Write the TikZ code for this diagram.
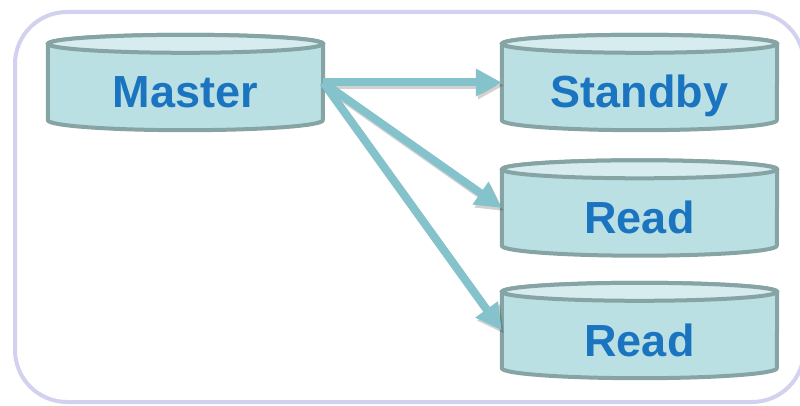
\documentclass[tikz,border=0pt]{standalone}
\usepackage{fontspec}
\setmainfont{Liberation Sans}
\usetikzlibrary{arrows.meta,calc,backgrounds}

\definecolor{framecol}{HTML}{D2D2F0}
\definecolor{cylfill}{HTML}{BBE0E3}
\definecolor{cyltopfill}{HTML}{D6ECEF}
\definecolor{cylline}{HTML}{86A4A4}
\definecolor{labelcol}{HTML}{1B74BF}
\definecolor{arrowcol}{HTML}{84C3CC}

\tikzset{
  dbnode/.style={minimum width=275pt, minimum height=95pt, inner sep=0pt,
    text height=51pt, text depth=0pt, text=labelcol,
    font=\fontsize{45}{54}\selectfont\bfseries},
  cylbody/.style={fill=cylfill, draw=cylline, line width=4pt, line join=round},
  cyltop/.style={fill=cyltopfill, draw=cylline, line width=4pt},
  outerframe/.style={draw=framecol, line width=4pt, rounded corners=52pt},
  flow/.style={draw=arrowcol, line width=8pt,
    -{Triangle[length=26pt,width=26pt]}},
  flowshadow/.style={draw=black, opacity=0.18, line width=8pt,
    -{Triangle[length=26pt,width=26pt]},
    transform canvas={shift={(2pt,-3pt)}}},
}

% database drum behind a named node
\newcommand\dbdrum[1]{%
  \path[cylbody] ($(#1.north west)+(0,-9)$) -- ($(#1.south west)+(0,10)$)
    arc[start angle=180, end angle=360, x radius=137.5pt, y radius=10pt]
    -- ($(#1.north east)+(0,-9)$)
    arc[start angle=0, end angle=180, x radius=137.5pt, y radius=9pt] -- cycle;
  \path[cyltop] ($(#1.north)+(0,-9)$) ellipse[x radius=137.5pt, y radius=9pt];
}

\begin{document}
\begin{tikzpicture}[x=1pt, y=1pt]
  \useasboundingbox (0,0) rectangle (800,405);

  \node[dbnode] (master)  at (185.5,322.5) {Master};
  \node[dbnode] (standby) at (639.5,322.5) {Standby};
  \node[dbnode] (readA)   at (639.5,197)   {Read};
  \node[dbnode] (readB)   at (639.5,74.5)  {Read};

  \begin{pgfonlayer}{background}
    \draw[outerframe] (15,3) rectangle (804,393);
    \dbdrum{master}
    \dbdrum{standby}
    \dbdrum{readA}
    \dbdrum{readB}
  \end{pgfonlayer}

  % replication arrows
  \draw[flowshadow] (master.east) -- (standby.west);
  \draw[flowshadow] (master.east) -- (readA.west);
  \draw[flowshadow] (master.east) -- (readB.west);
  \draw[flow] (master.east) -- (standby.west);
  \draw[flow] (master.east) -- (readA.west);
  \draw[flow] (master.east) -- (readB.west);
\end{tikzpicture}
\end{document}
